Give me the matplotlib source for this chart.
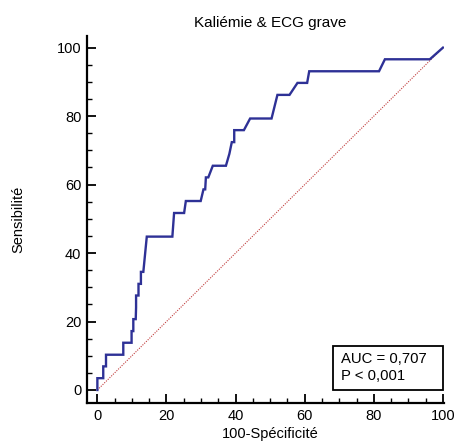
import matplotlib
matplotlib.use("Agg")
import matplotlib.pyplot as plt
from matplotlib.patches import Rectangle
from matplotlib.ticker import MultipleLocator

plt.rcParams['font.family'] = ['Liberation Sans', 'DejaVu Sans']

# ROC curve vertices (100-specificity, sensitivity), in percent
fpr = [0, 0, 1.7, 1.7, 2.5, 2.5, 7.5, 7.5, 9.9, 9.9, 10.4, 10.4, 11.1, 11.2, 11.2,
       11.9, 11.9, 12.6, 12.6, 13.3, 14.3, 21.7, 22.2, 25.1, 25.6, 29.9, 30.7,
       31.2, 31.4, 32.1, 33.4, 37.2, 38.2, 38.9, 39.6, 39.6, 42.4, 44.2, 50.4,
       52.1, 55.6, 57.9, 60.7, 61.3, 81.5, 83.2, 96.2, 100]
tpr = [0, 3.45, 3.45, 6.9, 6.9, 10.3, 10.3, 13.8, 13.8, 17.2, 17.2, 20.7, 20.7,
       24.1, 27.6, 27.6, 31.0, 31.0, 34.5, 34.5, 44.8, 44.8, 51.7, 51.7, 55.2,
       55.2, 58.6, 58.6, 62.1, 62.1, 65.5, 65.5, 69.0, 72.4, 72.4, 75.9, 75.9,
       79.3, 79.3, 86.2, 86.2, 89.7, 89.7, 93.1, 93.1, 96.6, 96.6, 100]

title = "Kaliémie & ECG grave"
xlabel = "100-Spécificité"
ylabel = "Sensibilité"
auc_lines = ["AUC = 0,707", "P < 0,001"]

W, H = 457, 441
fig = plt.figure(figsize=(W / 100, H / 100), dpi=100)
ax = fig.add_axes([87 / W, 38 / H, (444 - 87) / W, (403 - 36) / H])

ax.plot([0, 100], [0, 100], color='#c03c3c', lw=0.8, ls=(0, (1, 1.2)))
ax.plot(fpr, tpr, color='#2e3196', lw=1.7, solid_joinstyle='miter')

ax.set_xlim(-3.0, 100.3)
ax.set_ylim(-3.8, 103.4)
for s in ('top', 'right'):
    ax.spines[s].set_visible(False)
for s in ('left', 'bottom'):
    ax.spines[s].set_linewidth(1.6)

ax.xaxis.set_major_locator(MultipleLocator(20))
ax.xaxis.set_minor_locator(MultipleLocator(5))
ax.yaxis.set_major_locator(MultipleLocator(20))
ax.yaxis.set_minor_locator(MultipleLocator(5))
ax.tick_params(which='major', direction='in', length=6.5, width=1.3,
               labelsize=10.5, pad=4)
ax.tick_params(which='minor', direction='in', length=3.6, width=1.0)

# AUC annotation box in the lower right corner of the plot
ax.add_patch(Rectangle((68.1, 0), 31.9, 12.9, fc='white', ec='black',
                       lw=1.3, zorder=5))
for txt, yb in zip(auc_lines, (7.8, 2.9)):
    ax.text(70.4, yb, txt, fontsize=10.75, ha='left', va='baseline', zorder=6)

fig.text(270 / W, 1 - 27 / H, title, ha='center', va='baseline', fontsize=11)
fig.text(270 / W, 1 - 427 / H, xlabel, ha='center', va='top', fontsize=10.5)
fig.text(18 / W, 1 - 219 / H, ylabel, ha='center', va='center',
         rotation=90, fontsize=10.5)

fig.savefig("out.png", dpi=100)
